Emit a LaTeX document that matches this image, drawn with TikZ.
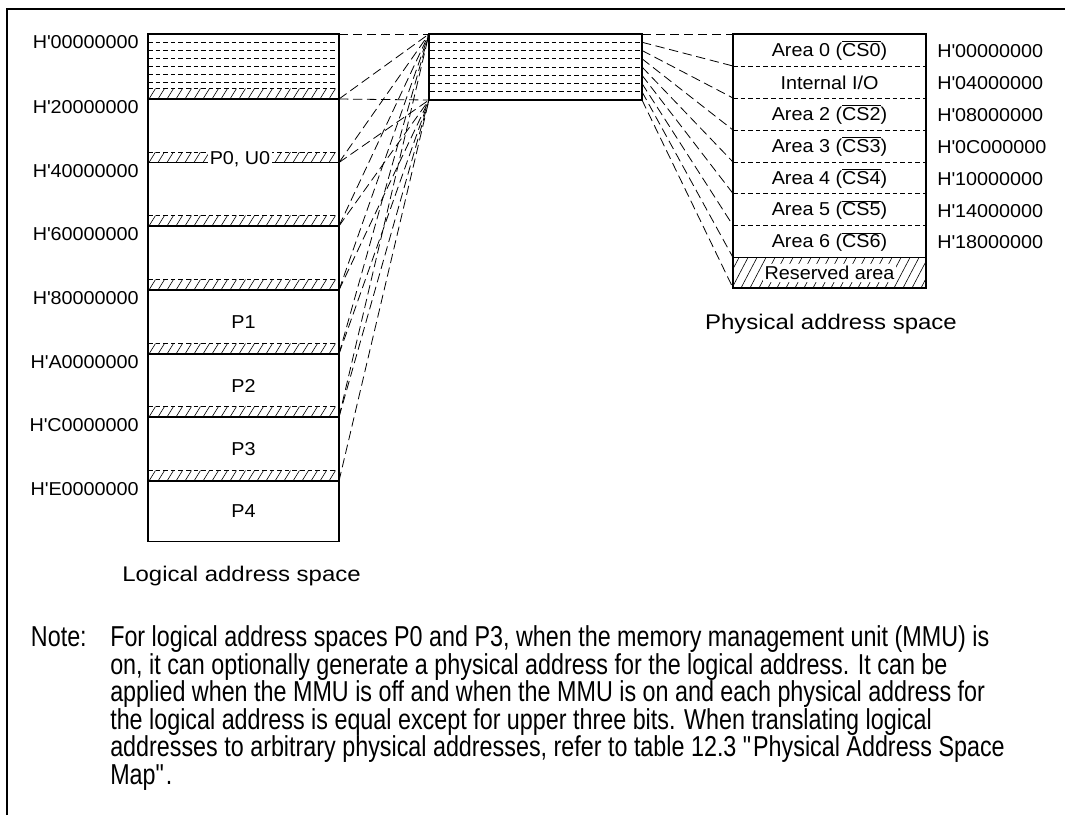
\documentclass[tikz,border=0pt]{standalone}
\usepackage{fontspec}
\setmainfont{Liberation Sans}
\newfontfamily\lblfont[FakeStretch=1.06]{Liberation Sans}
\newfontfamily\capfont[FakeStretch=1.13]{Liberation Sans}
\newfontfamily\narrowfont[FakeStretch=0.81]{Liberation Sans}
\newcommand{\qq}{\textquotesingle}
\newcommand{\csbar}[1]{$\overline{\mbox{#1}}$}
\begin{document}
\begin{tikzpicture}[x=0.75pt,y=-0.75pt,
  box/.style={line width=0.9pt},
  inner/.style={line width=0.6pt, dash pattern=on 3.5pt off 2.2pt},
  conn/.style={line width=0.6pt, dash pattern=on 7pt off 3.5pt},
  hatchl/.style={line width=0.45pt},
  lbl/.style={font=\lblfont\fontsize{14}{16}\selectfont, inner sep=0pt},
  captxt/.style={font=\capfont\fontsize{15.9}{20}\selectfont, inner sep=0pt},
  notetxt/.style={font=\narrowfont\fontsize{21.6}{24}\selectfont, inner sep=0pt}]
\useasboundingbox (0,0) rectangle (1065,815);
% frame
\draw[line width=1.5pt] (6.5,815) -- (6.5,8.5) -- (1065,8.5);

% ---------- logical address space ----------
\draw[box] (148,34) rectangle (339,541.5);
\foreach \b in {99,162.5,226,290,354,417,481} {
  \begin{scope}
    \clip (148,\b-10.5) rectangle (339,\b);
    \foreach \x in {140,149,...,340} \draw[hatchl] (\x,\b) -- (\x+6.5,\b-10.5);
  \end{scope}
  \draw[inner] (148,\b-10.5) -- (339,\b-10.5);
  \draw[box] (148,\b) -- (339,\b);
}
\foreach \i in {1,...,6} \draw[inner] (148,34+\i*8.125) -- (339,34+\i*8.125);

\node[lbl, anchor=east] (l0) at (139,42.5) {H\qq00000000};
\node[lbl, anchor=east] (l1) at (139,107.5) {H\qq20000000};
\node[lbl, anchor=east] (l2) at (139,171) {H\qq40000000};
\node[lbl, anchor=east] (l3) at (139,234.5) {H\qq60000000};
\node[lbl, anchor=east] (l4) at (139,298.5) {H\qq80000000};
\node[lbl, anchor=east] (l5) at (139,362.5) {H\qq A0000000};
\node[lbl, anchor=east] (l6) at (139,425.5) {H\qq C0000000};
\node[lbl, anchor=east] (l7) at (139,489.5) {H\qq E0000000};

\node[lbl, fill=white, inner sep=1pt] (p0) at (240,159.5) {P0, U0};
\node[lbl] (p1) at (243.5,322) {P1};
\node[lbl] (p2) at (243.5,386) {P2};
\node[lbl] (p3) at (243.5,449) {P3};
\node[lbl] (p4) at (243.5,511) {P4};
\node[captxt] (lcap) at (241.5,576) {Logical address space};

% ---------- middle box ----------
\draw[box] (429,34) rectangle (642,100);
\foreach \i in {1,...,7} \draw[inner] (430,34+\i*8.25) -- (641,34+\i*8.25);
\coordinate (MT) at (429,34);
\coordinate (MB) at (429,100);

% connectors logical -> middle
\foreach \b [count=\k] in {34,99,162.5,226,290,354,417} {
  \coordinate (LT\k) at (339,\b);
  \draw[conn] (LT\k) -- (MT);
}
\foreach \b [count=\k] in {99,162.5,226,290,354,417,481} {
  \coordinate (LB\k) at (339,\b);
  \draw[conn] (LB\k) -- (MB);
}

% ---------- physical address space ----------
\draw[box] (733,34) rectangle (926,288);
\begin{scope}
  \clip (733,257.5) rectangle (926,288);
  \foreach \x in {705,714,...,935} \draw[hatchl] (\x,288) -- (\x+16,257.5);
\end{scope}
\foreach \y in {66,98,130,162,193.5,225.5} \draw[inner] (733,\y) -- (926,\y);
\draw[box] (733,257.5) -- (926,257.5);

\node[lbl] (a0) at (829.5,50.5) {Area 0 (\csbar{CS0})};
\node[lbl] (a1) at (829.5,82.5) {Internal I/O};
\node[lbl] (a2) at (829.5,114.5) {Area 2 (\csbar{CS2})};
\node[lbl] (a3) at (829.5,146.5) {Area 3 (\csbar{CS3})};
\node[lbl] (a4) at (829.5,178.5) {Area 4 (\csbar{CS4})};
\node[lbl] (a5) at (829.5,210) {Area 5 (\csbar{CS5})};
\node[lbl] (a6) at (829.5,242) {Area 6 (\csbar{CS6})};
\node[lbl, fill=white, inner sep=1.5pt] (res) at (829.5,273) {Reserved area};

\node[lbl, anchor=west] (r0) at (937,51) {H\qq00000000};
\node[lbl, anchor=west] (r1) at (937,83) {H\qq04000000};
\node[lbl, anchor=west] (r2) at (937,115) {H\qq08000000};
\node[lbl, anchor=west] (r3) at (937,147) {H\qq0C000000};
\node[lbl, anchor=west] (r4) at (937,179) {H\qq10000000};
\node[lbl, anchor=west] (r5) at (937,211) {H\qq14000000};
\node[lbl, anchor=west] (r6) at (937,242.5) {H\qq18000000};
\node[captxt] (pcap) at (831,324) {Physical address space};

% connectors middle -> physical
\foreach \p [count=\k from 0] in {34,66,98,130,162,193.5,225.5,257.5,288} {
  \coordinate (M\k) at (642,34+\k*8.25);
  \coordinate (P\k) at (733,\p);
  \draw[conn] (M\k) -- (P\k);
}

% ---------- note ----------
\node[notetxt, anchor=base east] (note) at (87,646.5) {Note:};
\node[notetxt, anchor=base west] (n1) at (110,646.5) {For logical address spaces P0 and P3, when the memory management unit (MMU) is};
\node[notetxt, anchor=base west] (n2) at (110,674) {on, it can optionally generate a physical address for the logical address. It can be};
\node[notetxt, anchor=base west] (n3) at (110,701.5) {applied when the MMU is off and when the MMU is on and each physical address for};
\node[notetxt, anchor=base west] (n4) at (110,729) {the logical address is equal except for upper three bits. When translating logical};
\node[notetxt, anchor=base west] (n5) at (110,756.5) {addresses to arbitrary physical addresses, refer to table 12.3 \textquotedbl Physical Address Space};
\node[notetxt, anchor=base west] (n6) at (110,784) {Map\textquotedbl.};
\end{tikzpicture}
\end{document}
